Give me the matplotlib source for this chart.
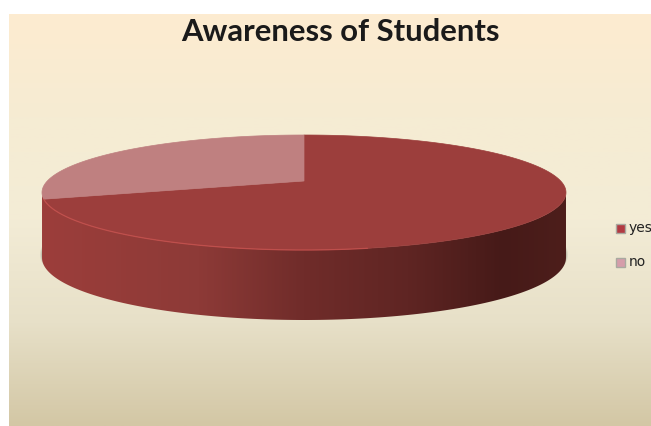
import numpy as np
import matplotlib.pyplot as plt
from matplotlib.colors import LinearSegmentedColormap
from matplotlib.patches import PathPatch, Rectangle
from matplotlib.path import Path

labels = ["yes", "no"]
values = [70, 30]
title = "Awareness of Students"

top_colors = ["#9c3e3c", "#bf8080"]
legend_colors = ["#b23a42", "#d59daa"]

W, H = 651, 426
fig = plt.figure(figsize=(W / 100, H / 100), dpi=100)
ax = fig.add_axes([0, 0, 1, 1])
ax.set_xlim(0, W)
ax.set_ylim(H, 0)
ax.axis("off")


def gradient(stops, extent, clip=None, vertical=True, zorder=1):
    # stops are (position, colour) pairs from 0 to 1
    cmap = LinearSegmentedColormap.from_list("g", stops)
    g = np.linspace(0, 1, 256)
    g = g.reshape(-1, 1) if vertical else g.reshape(1, -1)
    im = ax.imshow(g, cmap=cmap, extent=extent, aspect="auto", zorder=zorder)
    if clip is not None:
        im.set_clip_path(clip)
    return im


# background
gradient(
    [(0, "#fdebd0"), (0.25, "#f6ecd3"), (0.5, "#f3ecd6"), (0.75, "#e7e0c8"), (1, "#d3c7a5")],
    (9, W, H, 14),
)

# pie seen in perspective: circle -> screen
CX, CY = 304, 181
A, K, P = 256.7, 55.2, 0.2


def top_xy(theta):
    u, v = np.cos(theta), np.sin(theta)
    d = 1 + P * v
    return CX + A * u / d, CY - K * v / d


def bottom_xy(theta):
    x, y = top_xy(theta)
    return x, y + 64 - 6 * np.sin(theta)


def poly_patch(xs, ys, **kw):
    verts = np.column_stack([xs, ys])
    verts = np.vstack([verts, verts[0]])
    codes = [Path.MOVETO] + [Path.LINETO] * (len(xs) - 1) + [Path.CLOSEPOLY]
    return PathPatch(Path(verts, codes), **kw)


# soft shadow under the wall, only shows at the two sides
t = np.linspace(0, 2 * np.pi, 300)
bx, by = bottom_xy(t)
for grow, alpha in [(2.0, 0.12), (1.0, 0.2)]:
    sx = CX + (bx - CX) * (1 + grow / 262)
    ax.add_patch(poly_patch(sx, by - 3, fc="#5f6a5f", ec="none", alpha=alpha, zorder=2))

# side wall, between the two widest points of the top face
edge = np.arcsin(P)
t_front = np.linspace(np.pi + edge, 2 * np.pi - edge, 300)
tx, ty = top_xy(t_front)
bx, by = bottom_xy(t_front)
wall = poly_patch(np.r_[tx, bx[::-1]], np.r_[ty, by[::-1]], fc="none", ec="none", zorder=3)
ax.add_patch(wall)
gradient(
    [(0, "#9c3e3b"), (0.3, "#8d3a37"), (0.5, "#702c2a"), (0.7, "#5f2523"),
     (0.88, "#461a18"), (1, "#4d1e1b")],
    (42, 566, 330, 130),
    clip=wall,
    vertical=False,
    zorder=3,
)

# top slices, starting at 12 o'clock and going clockwise
fractions = np.array(values) / sum(values)
start = np.pi / 2
for frac, color in zip(fractions, top_colors):
    t_slice = np.linspace(start, start - 2 * np.pi * frac, 300)
    sx, sy = top_xy(t_slice)
    ax.add_patch(poly_patch(np.r_[CX, sx], np.r_[CY, sy], fc=color, ec=color, lw=0.5, zorder=4))
    start -= 2 * np.pi * frac

# lighter rim, left part of the front edge only
t_rim = np.linspace(np.pi / 2 - 2 * np.pi * fractions[0], -np.pi / 2 + 0.2, 200)
rx, ry = top_xy(t_rim)
ax.plot(rx, ry, color="#c8524f", lw=0.9, alpha=0.8, zorder=5, solid_capstyle="round")

ax.text(340, 32, title, fontsize=22.3, fontweight="bold", family="Lato",
        color="#1a1a1a", ha="center", va="center", zorder=6)

# legend, runs off the right edge as in the source
for label, color, y in zip(labels, legend_colors, [228, 262]):
    ax.add_patch(Rectangle((616, y - 4.5), 9, 9, fc=color, ec="#a9a9a0", lw=1, zorder=6))
    ax.text(629, y, label, fontsize=10, family="DejaVu Sans", color="#222222",
            ha="left", va="center", zorder=6)

fig.savefig("out.png", dpi=100)
